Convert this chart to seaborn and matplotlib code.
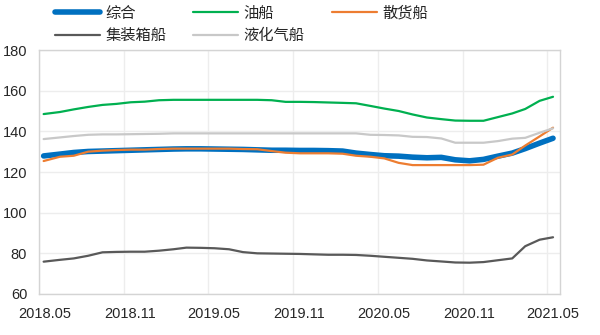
import matplotlib
matplotlib.use("Agg")
import matplotlib.pyplot as plt
import matplotlib.dates as mdates
import matplotlib.transforms as mtransforms
import pandas as pd
import seaborn as sns

# Observation dates (mid-month samples)
dates = (["2018-05-11"]
         + [f"{y}-{m:02d}-15" for y, m in
            [(2018, k) for k in range(6, 13)]
            + [(2019, k) for k in range(1, 13)]
            + [(2020, k) for k in range(1, 13)]
            + [(2021, k) for k in range(1, 5)]]
         + ["2021-05-14"])

composite = [127.9, 128.8, 129.6, 130.1, 130.3, 130.5, 130.7, 130.9, 131.1, 131.3,
             131.4, 131.4, 131.3, 131.2, 131.1, 130.9, 130.7, 130.7, 130.6, 130.6,
             130.5, 130.3, 129.3, 128.6, 128.0, 127.8, 127.3, 127.0, 127.2, 126.0,
             125.5, 126.2, 127.8, 129.3, 131.5, 134.2, 136.6]
tanker = [148.5, 149.5, 150.8, 152.0, 153.0, 153.5, 154.3, 154.6, 155.3, 155.5,
          155.5, 155.5, 155.5, 155.5, 155.5, 155.5, 155.3, 154.5, 154.5, 154.4,
          154.2, 154.0, 153.8, 152.5, 151.2, 150.0, 148.3, 146.8, 146.0, 145.3,
          145.2, 145.2, 147.0, 148.8, 151.0, 155.0, 157.0]
bulk = [125.4, 127.5, 128.0, 130.0, 130.5, 130.8, 131.0, 131.0, 131.3, 131.5,
        131.5, 131.5, 131.5, 131.5, 131.3, 131.2, 130.3, 129.5, 129.2, 129.2,
        129.2, 129.0, 128.0, 127.5, 126.7, 124.5, 123.4, 123.4, 123.4, 123.4,
        123.4, 123.6, 127.0, 128.6, 133.0, 137.5, 141.8]
container = [75.9, 76.8, 77.5, 78.8, 80.5, 80.7, 80.8, 80.8, 81.3, 82.0,
             82.8, 82.7, 82.5, 82.0, 80.6, 80.0, 79.9, 79.8, 79.7, 79.5,
             79.3, 79.3, 79.2, 78.8, 78.3, 77.8, 77.3, 76.5, 76.0, 75.5,
             75.4, 75.7, 76.6, 77.5, 83.5, 86.7, 87.9]
lpg = [136.2, 137.0, 137.7, 138.3, 138.5, 138.5, 138.6, 138.7, 138.8, 139.0,
       139.0, 139.0, 139.0, 139.0, 139.0, 139.0, 139.0, 139.0, 139.0, 139.0,
       139.0, 139.0, 139.0, 138.3, 138.2, 138.0, 137.3, 137.2, 136.5, 134.4,
       134.4, 134.4, 135.2, 136.4, 136.8, 139.3, 141.5]

series_names = ["综合", "油船", "散货船", "集装箱船", "液化气船"]
series_values = [composite, tanker, bulk, container, lpg]
series_colors = ["#0070C0", "#00B050", "#ED7D31", "#595959", "#C8C8C8"]
series_widths = [4.0, 1.6, 1.6, 1.6, 1.6]

x_ticks = ["2018-05-01", "2018-11-01", "2019-05-01", "2019-11-01",
           "2020-05-01", "2020-11-01", "2021-05-01"]
y_ticks = [60, 80, 100, 120, 140, 160, 180]

sns.set_theme(style="white")
plt.rcParams["font.family"] = ["Liberation Sans", "Noto Sans CJK SC"]

fig = plt.figure(figsize=(6.0, 3.35), dpi=100)
ax = fig.add_axes([0.065, 0.1224, 0.8683, 0.7283])

x = pd.to_datetime(dates)
handles = []
for name, vals, col, lw in zip(series_names, series_values, series_colors, series_widths):
    sns.lineplot(x=x, y=vals, ax=ax, color=col, linewidth=lw, label=name)
    handles.append(ax.get_lines()[-1])

ax.set_xlim(pd.Timestamp("2018-05-01"), pd.Timestamp("2021-05-29"))
ax.set_ylim(60, 180)
ax.set_yticks(y_ticks)
ax.set_xticks(pd.to_datetime(x_ticks))
ax.xaxis.set_major_formatter(mdates.DateFormatter("%Y.%m"))
ax.set_xlabel("")
ax.set_ylabel("")

ax.grid(True, color="#EDEDED", linewidth=1.0)
ax.set_axisbelow(True)
for s in ax.spines.values():
    s.set_color("#D4D4D4")
    s.set_linewidth(1.0)
ax.tick_params(axis="both", length=0, labelsize=10.5, labelcolor="#262626")
ax.tick_params(axis="y", pad=8.5)
ax.tick_params(axis="x", pad=9.5)
shift = mtransforms.ScaledTranslation(6 / 100, 0, fig.dpi_scale_trans)
for lab in ax.get_xticklabels():
    lab.set_transform(lab.get_transform() + shift)

ax.get_legend().remove()
order = [0, 3, 1, 4, 2]
fig.legend([handles[i] for i in order], [series_names[i] for i in order],
           loc="upper left", bbox_to_anchor=(0.087, 0.991), ncol=3, frameon=False,
           fontsize=11, handlelength=2.95, handletextpad=0.35, columnspacing=1.75,
           labelspacing=0.53, borderpad=0.2, borderaxespad=0)

fig.savefig("out.png", dpi=100)
